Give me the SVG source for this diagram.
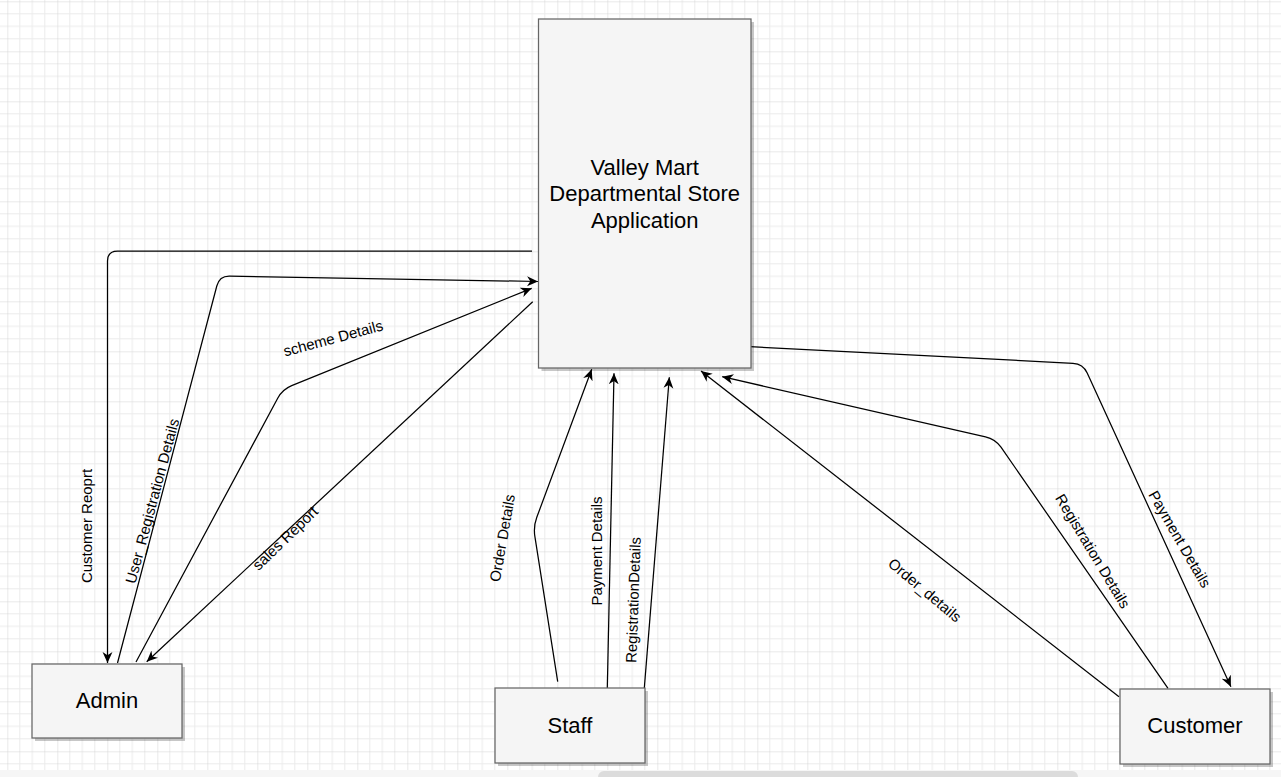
<svg xmlns="http://www.w3.org/2000/svg" width="1281" height="777" viewBox="0 0 1281 777">
<style>
.box{fill:#f5f5f5;stroke:#666666;stroke-width:1.25}
.shadow{fill:#000;opacity:0.22}
.nt{font-family:"Liberation Sans",Arial,sans-serif;font-size:22px;fill:#000;text-anchor:middle}
.el{font-family:"Liberation Sans",Arial,sans-serif;font-size:15px;fill:#000;text-anchor:middle;dominant-baseline:central}
.c{fill:none;stroke:#000;stroke-width:1.25}
.arr{marker-end:url(#ah)}
</style>
<defs>
<pattern id="grid" patternUnits="userSpaceOnUse" x="7.3" y="1.3" width="50" height="50">
<path d="M12.5,0V50M25,0V50M37.5,0V50M0,12.5H50M0,25H50M0,37.5H50" stroke="#ebebeb" stroke-width="1" fill="none"/>
<path d="M0,0V50M0,0H50" stroke="#d4d4d4" stroke-width="1" fill="none"/>
</pattern>
<marker id="ah" viewBox="0 0 10 10" refX="10" refY="5" markerWidth="11" markerHeight="11" markerUnits="userSpaceOnUse" orient="auto">
<path d="M0,0.5 L10,5 L0,9.5 L3,5 z" fill="#000"/>
</marker>
</defs>
<rect width="1281" height="777" fill="#ffffff"/>
<rect width="1281" height="777" fill="url(#grid)"/>
<rect x="0" y="770" width="1281" height="7" fill="#f6f6f6"/>
<rect x="598" y="771" width="480" height="12" rx="6" fill="#dcdcdc"/>

<g id="connectors">
<path class="c arr" d="M532,251 L117.5,251 Q107.5,251 107.5,261 L107.5,663"/>
<path class="c arr" d="M117.5,663 L216.8,286 Q219.5,276 229.5,276.2 L538,281.5"/>
<path class="c arr" d="M136,662 L277.7,398.2 Q282.4,389.4 291.7,385.6 L531.7,288.3"/>
<path class="c arr" d="M532.7,301.7 L146.7,661.7"/>
<path class="c arr" d="M557.7,681.7 L534.9,536.6 Q533.3,526.7 536.8,517.3 L591.7,369.3"/>
<path class="c arr" d="M607.3,688.3 L614,373.3"/>
<path class="c arr" d="M644.3,688.3 L669.3,377.3"/>
<path class="c arr" d="M1119,696.7 L701,371"/>
<path class="c arr" d="M1168,688.3 L1001,447.2 Q995.3,439 985.5,436.8 L722.2,376.7"/>
<path class="c arr" d="M750,346.7 L1073,363.3 Q1083,363.8 1087.2,372.9 L1230.9,686.7"/>
<text class="el" transform="translate(86,526) rotate(-90)">Customer Reoprt</text>
<text class="el" transform="translate(152,501) rotate(-75)">User_Registration Details</text>
<text class="el" transform="translate(333,338) rotate(-15)">scheme Details</text>
<text class="el" transform="translate(285,538) rotate(-44)">sales Report</text>
<text class="el" transform="translate(502,538) rotate(-80)">Order Details</text>
<text class="el" transform="translate(596,551) rotate(-90)">Payment Details</text>
<text class="el" transform="translate(633,600) rotate(-88)">RegistrationDetails</text>
<text class="el" transform="translate(925,590) rotate(40)">Order_details</text>
<text class="el" transform="translate(1093,551) rotate(59)">Registration Details</text>
<text class="el" transform="translate(1180,539) rotate(60)">Payment Details</text>
</g>

<g id="app">
<rect class="shadow" x="541.5" y="22" width="212.5" height="349"/>
<rect class="box" x="538.5" y="19" width="212.5" height="349"/>
<text class="nt" x="644.7" y="174.5">Valley Mart</text>
<text class="nt" x="644.7" y="201">Departmental Store</text>
<text class="nt" x="644.7" y="227.5">Application</text>
</g>
<g id="admin">
<rect class="shadow" x="35" y="667" width="150" height="74"/>
<rect class="box" x="32" y="664" width="150" height="74"/>
<text class="nt" x="107" y="708">Admin</text>
</g>
<g id="staff">
<rect class="shadow" x="498" y="691" width="150" height="75"/>
<rect class="box" x="495" y="688" width="150" height="75"/>
<text class="nt" x="570" y="732.5">Staff</text>
</g>
<g id="customer">
<rect class="shadow" x="1123" y="692" width="150" height="75"/>
<rect class="box" x="1120" y="689" width="150" height="75"/>
<text class="nt" x="1195" y="733">Customer</text>
</g>
</svg>
